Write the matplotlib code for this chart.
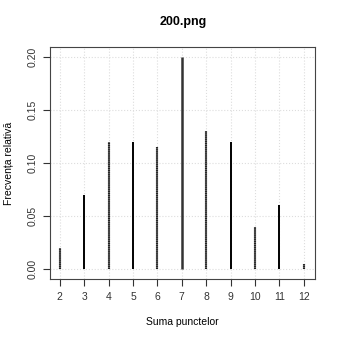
import matplotlib
matplotlib.use("Agg")
import matplotlib.pyplot as plt

plt.rcParams['font.family'] = ['Liberation Sans', 'DejaVu Sans']

sume = [2, 3, 4, 5, 6, 7, 8, 9, 10, 11, 12]
frecvente = [0.02, 0.07, 0.12, 0.12, 0.115, 0.20, 0.13, 0.12, 0.04, 0.06, 0.005]
y_ticks = [0.00, 0.05, 0.10, 0.15, 0.20]

fig = plt.figure(figsize=(3.4, 3.4), dpi=100)
ax = fig.add_axes([0.147, 0.179, 0.779, 0.683])

for s, f in zip(sume, frecvente):
    if s % 2 == 0:
        # linii cu aspect punctat, aproape continue
        ax.vlines(s, 0, f, colors='#666666', linewidth=1.5)
        ax.vlines(s, 0, f, colors='#222222', linewidth=1.5, linestyles=(0, (0.5, 0.5)))
    elif s == 7:
        ax.vlines(s, 0, f, colors='#333333', linewidth=1.8)
    else:
        ax.vlines(s, 0, f, colors='black', linewidth=1.4)

ax.set_xlim(1.6, 12.45)
ax.set_ylim(-0.0094, 0.2094)
ax.set_xticks(sume)
ax.set_yticks(y_ticks)
ax.set_yticklabels(['%.2f' % v for v in y_ticks], rotation=90, va='center')
ax.grid(True, linestyle=':', color='#dddddd', linewidth=0.8)
ax.set_axisbelow(True)
ax.tick_params(direction='out', length=5, width=0.8, labelsize=7.5, colors='#333333', pad=4)
for sp in ax.spines.values():
    sp.set_color('#444444')
    sp.set_linewidth(0.8)

ax.set_xlabel('Suma punctelor', fontsize=7.5, labelpad=11)
ax.set_ylabel('Frecvența relativă', fontsize=7.5, labelpad=10)
fig.text(0.54, 0.935, '200.png', ha='center', va='center', fontsize=9, fontweight='bold')

fig.savefig('out.png', dpi=100)
